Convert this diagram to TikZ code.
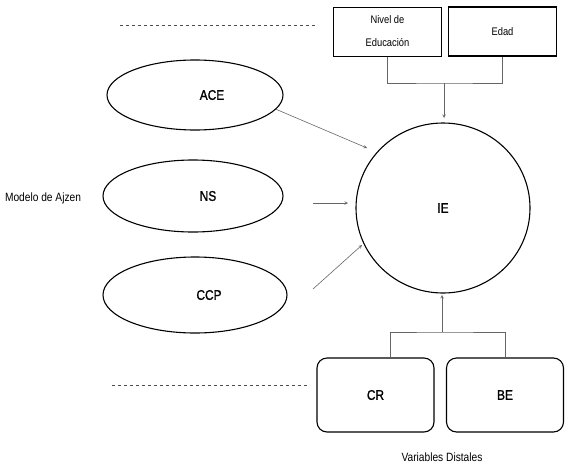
\documentclass[tikz,border=0pt]{standalone}
\usepackage{fontspec}
\setmainfont{Liberation Sans}[FakeStretch=0.85]
\newfontfamily\labelfont{Liberation Sans}[FakeStretch=0.85, FakeBold=1.2]
\usetikzlibrary{shapes.geometric}

\begin{document}
\begin{tikzpicture}[x=1pt,y=-1pt,>=stealth,
    construct/.style={ellipse, draw, line width=1.1pt, font=\labelfont\fontsize{14}{16}\selectfont},
    factor/.style={rectangle, draw, line width=1pt, minimum width=108pt, minimum height=49pt, font=\fontsize{11}{23}\selectfont, align=center},
    distal/.style={rectangle, rounded corners=10pt, draw, line width=1.1pt, minimum width=117pt, minimum height=74pt, font=\labelfont\fontsize{14}{16}\selectfont},
    link/.style={draw=black!60, line width=0.6pt}]
    \useasboundingbox (0,0) rectangle (572,474);
    % \draw[help lines, gray] (0,0) grid[step=50pt] (572,474);
    \draw[dashed, black!70] (120,25) -- (316,25);
    \draw[dashed, black!70] (112,385) -- (307,385);

    \node[font=\fontsize{12}{14}\selectfont] (ajzen) at (43,198) {Modelo de Ajzen};
    \node[font=\fontsize{12}{14}\selectfont] (distales) at (442,457) {Variables Distales};

    \node[construct, minimum width=176pt, minimum height=70pt] (ace) at (195,95) {\hspace*{34pt}ACE};
    \node[construct, minimum width=180pt, minimum height=72pt] (ns) at (193,196) {\hspace*{30pt}NS};
    \node[construct, minimum width=184pt, minimum height=76pt] (ccp) at (195,295) {\hspace*{28pt}CCP};
    \node[construct, minimum width=174pt, minimum height=170pt] (ie) at (443,208) {IE};

    \node[factor] (nivel) at (387.5,31.5) {Nivel de\\Educación};
    \node[factor, line width=1.4pt] (edad) at (502.5,31.5) {Edad};

    \node[distal] (cr) at (375.5,395) {CR};
    \node[distal] (be) at (505,395) {BE};

    \coordinate (ie-ace) at (367,148);
    \coordinate (ns-out) at (313,203);
    \coordinate (ie-ns) at (348,203);
    \coordinate (ccp-out) at (313,289);
    \coordinate (ie-ccp) at (362,245);
    \coordinate (top-join) at (444,83);
    \coordinate (ie-top) at (444,118);
    \coordinate (bot-join) at (442,332);
    \coordinate (ie-bot) at (442,295);

    \draw[link, ->] (ace.-10) -- (ie-ace);
    \draw[link, ->] (ns-out) -- (ie-ns);
    \draw[link, ->] (ccp-out) -- (ie-ccp);

    \draw[link] (nivel.south) |- (top-join) -| (edad.south);
    \draw[link, ->] (top-join) -- (ie-top);

    \draw[link] ([xshift=14.5pt]cr.north) |- (bot-join) -| (be.north);
    \draw[link, ->] (bot-join) -- (ie-bot);
\end{tikzpicture}
\end{document}
